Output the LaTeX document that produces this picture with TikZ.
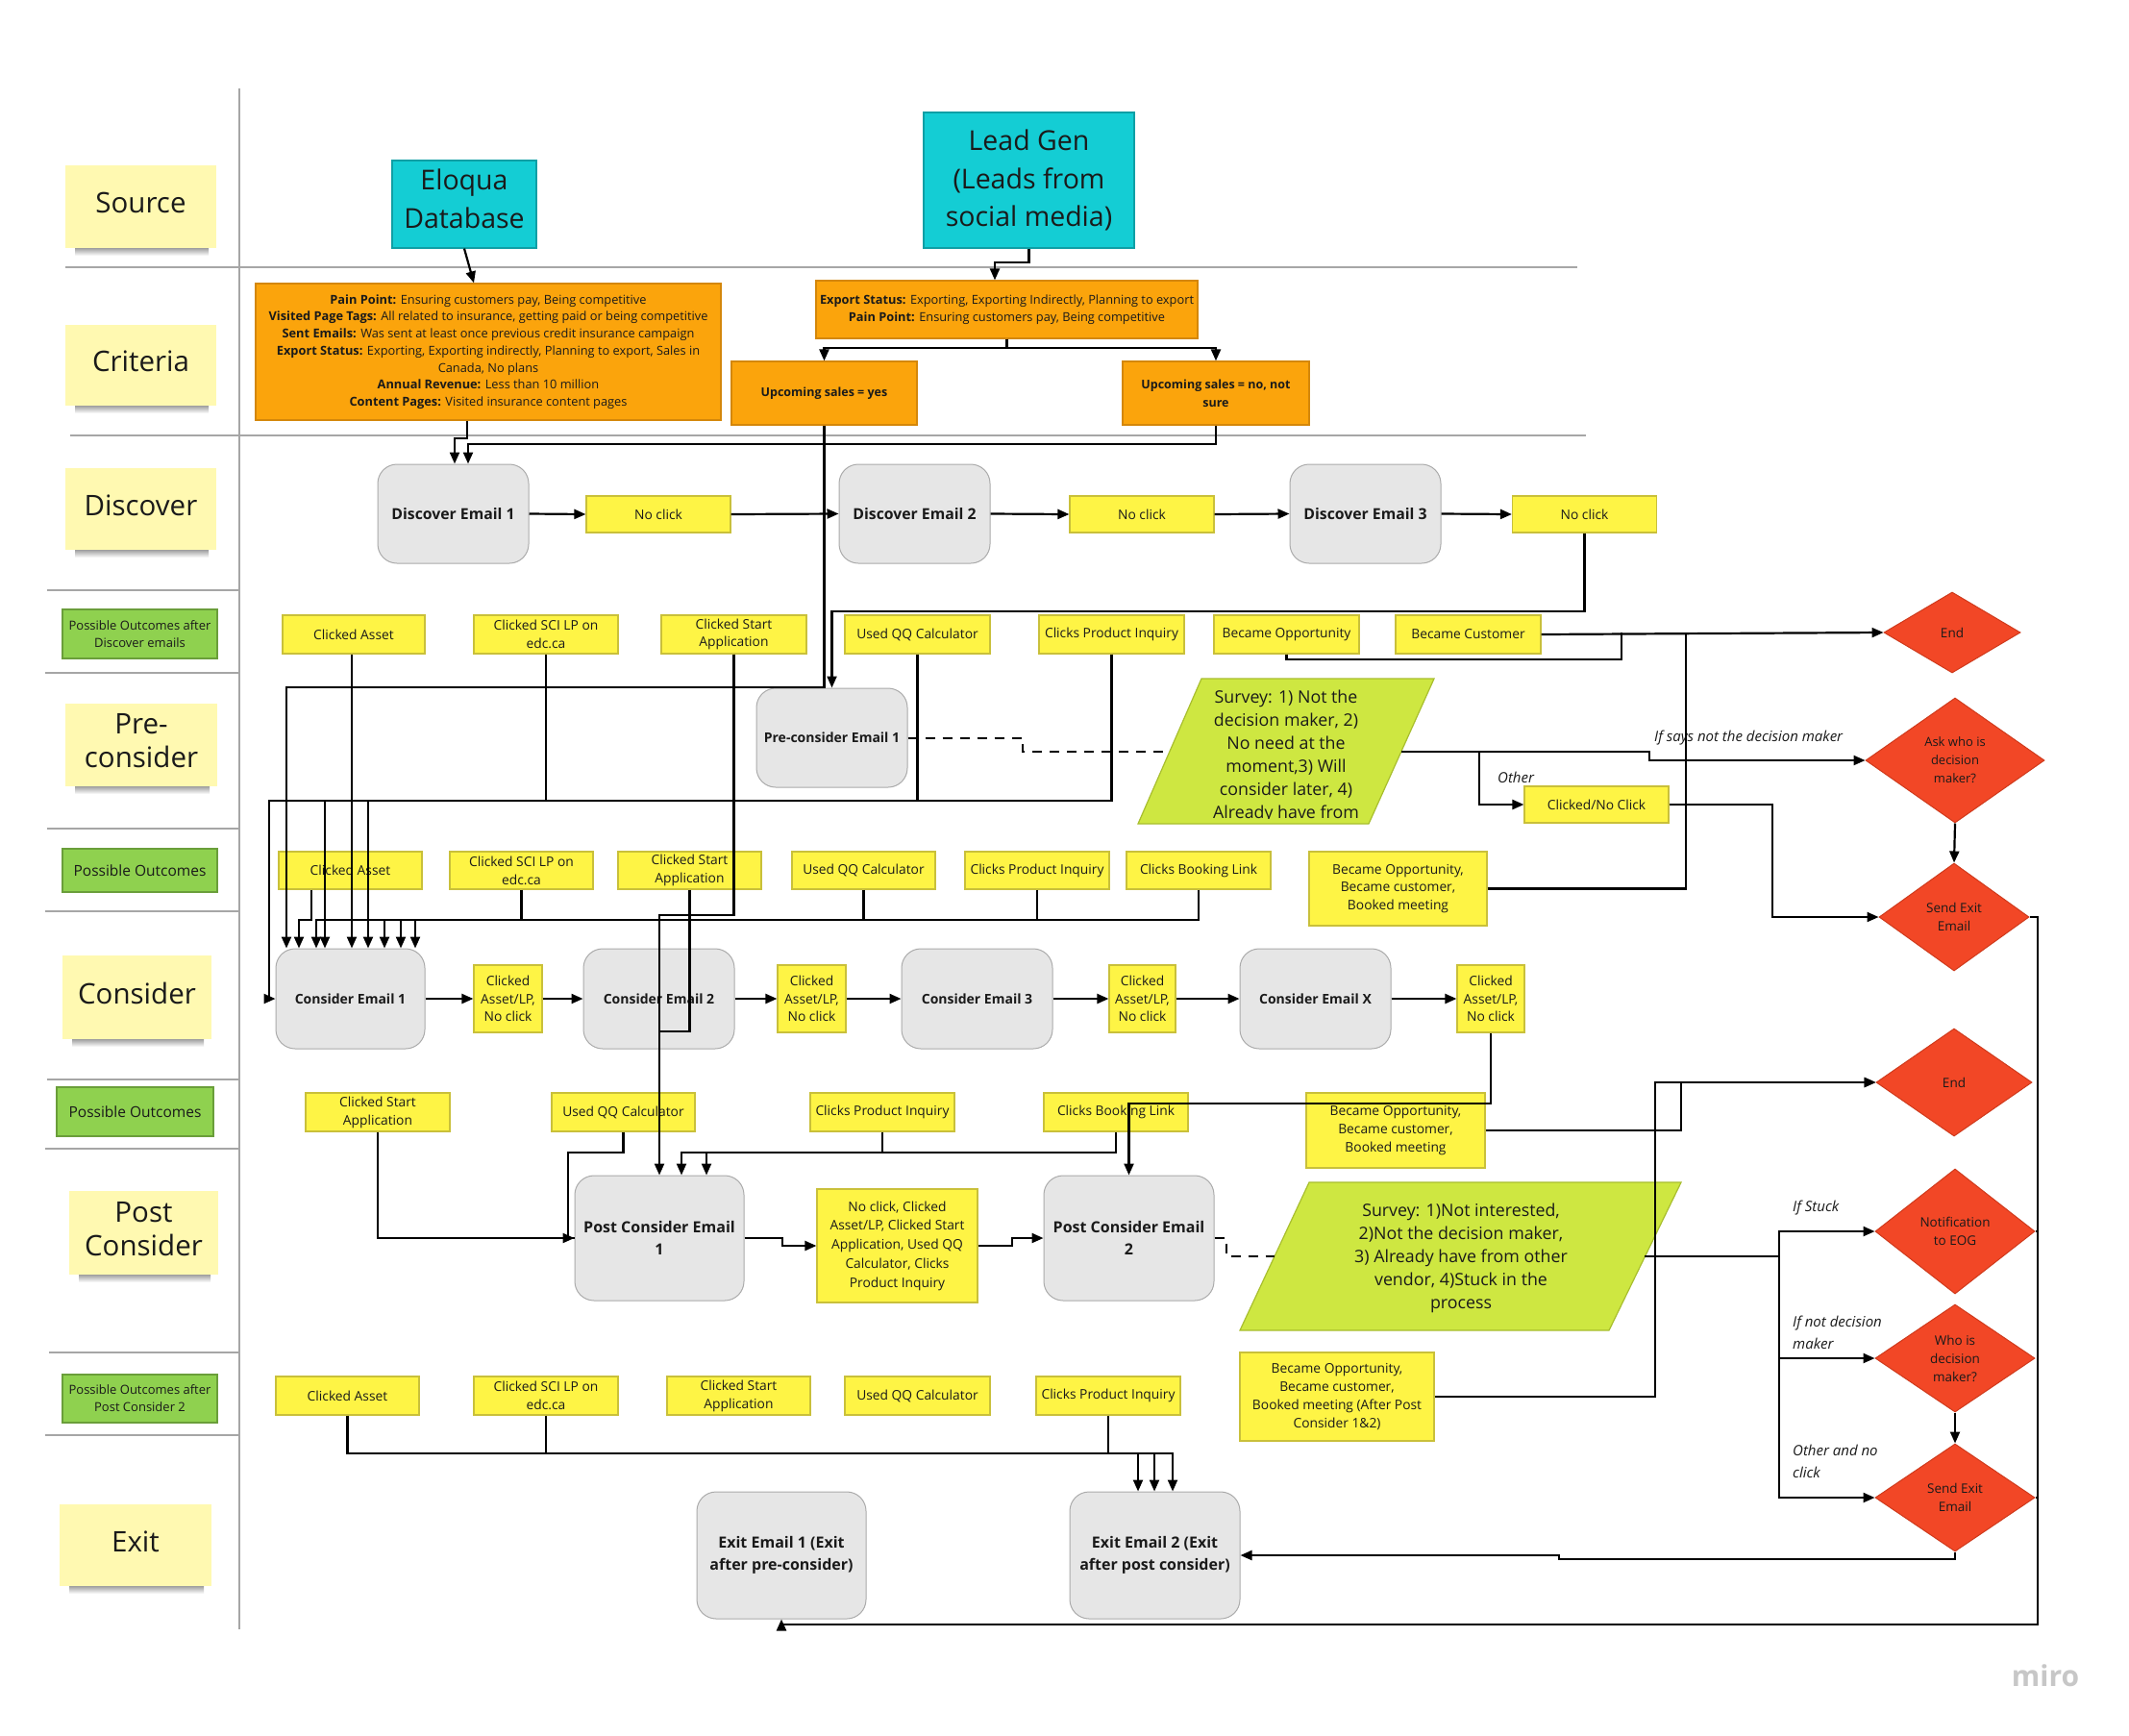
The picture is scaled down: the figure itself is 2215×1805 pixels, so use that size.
\documentclass[tikz,border=0pt]{standalone}
\usepackage{fontspec}
\setmainfont{Open Sans}
\usetikzlibrary{arrows.meta,shapes.geometric}
\definecolor{txt}{HTML}{1A1A1A}
\definecolor{yel}{HTML}{FEF445}
\definecolor{yelb}{HTML}{C9C03A}
\definecolor{org}{HTML}{FBA40C}
\definecolor{orgb}{HTML}{D4870A}
\definecolor{cy}{HTML}{14CDD4}
\definecolor{cyb}{HTML}{0E9FA5}
\definecolor{rd}{HTML}{F24726}
\definecolor{rdb}{HTML}{CF3A1C}
\definecolor{grn}{HTML}{8FD14F}
\definecolor{grnb}{HTML}{6A9E3A}
\definecolor{stickyc}{HTML}{FFF9B1}
\definecolor{emf}{HTML}{E6E6E6}
\definecolor{emb}{HTML}{ABABAB}
\definecolor{sv}{HTML}{CEE741}
\definecolor{svb}{HTML}{A8BE2E}
\definecolor{sepc}{HTML}{A6A6A6}
\newcommand\stickynote[6]{%
  \shade[top color=black!60,bottom color=white,opacity=0.7] (#2-#4/2+10,#3+#5/2-1) rectangle (#2+#4/2-8,#3+#5/2+8);
  \node[stick,sz={#4}{#5}] (#1) at (#2,#3) {};
  \node[stickytext] (#1T) at (#2,#3-4) {#6};}
\begin{document}
\begin{tikzpicture}[x=1pt,y=-1pt,
  every node/.style={text=txt},
  sz/.style 2 args={minimum width=#1pt,minimum height=#2pt},
  stick/.style={fill=stickyc,inner sep=0},
  stickytext/.style={inner sep=0,align=center,font=\fontsize{29.5}{35}\selectfont},
  glab/.style={fill=grn,draw=grnb,line width=1.2pt,inner sep=0,align=center},
  src/.style={fill=cy,draw=cyb,line width=1.2pt,inner sep=0,align=center,font=\fontsize{28.5}{39.5}\selectfont},
  crit/.style={fill=org,draw=orgb,line width=1.2pt,inner sep=0,align=center,font=\fontsize{12.8}{17.7}\selectfont},
  email/.style={fill=emf,draw=emb,line width=1pt,rounded corners=20pt,inner sep=0,align=center,font=\bfseries\fontsize{14}{20}\selectfont},
  ybox/.style={fill=yel,draw=yelb,line width=1.2pt,inner sep=0,align=center,font=\fontsize{13.8}{18.8}\selectfont},
  dia/.style={diamond,fill=rd,draw=rdb,line width=1pt,inner sep=0,align=center,font=\fontsize{13.5}{19}\selectfont},
  note/.style={font=\itshape\fontsize{15}{23}\selectfont,inner sep=0,align=left},
  surveybox/.style={fill=sv,draw=svb,line width=1.2pt},
  surveytext/.style={align=center,inner sep=0,font=\fontsize{17.8}{24}\selectfont},
  wire/.style={line width=2.2pt,line join=miter},
  wirearr/.style={wire,-{Triangle[length=12pt,width=10pt]}},
  dashwire/.style={line width=2pt,dash pattern=on 10pt off 8pt},
  sepline/.style={draw=sepc,line width=1.3pt}
]
\useasboundingbox (0,0) rectangle (2215,1805);
\fill[white] (0,0) rectangle (2215,1805);

% separators
\draw[sepline] (68,278) -- (1641,278);
\draw[sepline] (73,453) -- (1650,453);
\foreach \yy/\xa in {614/49,700/47,862/49,948/47,1123/49,1195/47,1407/51,1493/47}
  \draw[sepline] (\xa,\yy) -- (249,\yy);
\draw[sepline] (249,92) -- (249,1695);

% row labels
\stickynote{srcL}{146.5}{215}{157}{86}{Source}
\stickynote{critL}{146.5}{380}{157}{84}{Criteria}
\stickynote{discL}{146.5}{529.5}{157}{85}{Discover}
\stickynote{preL}{147}{775}{158}{86}{Pre-\\consider}
\stickynote{consL}{142.5}{1037.5}{155}{87}{Consider}
\stickynote{postL}{149.5}{1282.5}{155}{87}{Post\\Consider}
\stickynote{exitL}{141}{1607.5}{158}{85}{Exit}
\node[glab,sz={161}{51},font=\fontsize{13}{18}\selectfont] (pocA) at (145.5,659.5) {Possible Outcomes after\\Discover emails};
\node[glab,sz={161}{45},font=\fontsize{15.5}{20}\selectfont] (pocB) at (145.5,905.5) {Possible Outcomes};
\node[glab,sz={163}{51},font=\fontsize{15.5}{20}\selectfont] (pocC) at (140.5,1156.5) {Possible Outcomes};
\node[glab,sz={161}{50},font=\fontsize{13}{18}\selectfont] (pocD) at (145.5,1455) {Possible Outcomes after\\Post Consider 2};

% sources
\node[src,sz={150}{91}] (eloqua) at (483,212.5) {};
\node[inner sep=0,align=center,font=\fontsize{28.5}{39.5}\selectfont] (eloquaT) at (483,207) {Eloqua\\Database};
\node[src,sz={219}{141}] (leadgen) at (1070.5,187.5) {Lead Gen\\(Leads from\\social media)};

% criteria
\node[crit,sz={484}{142}] (crit1) at (508,366) {\textbf{Pain Point:} Ensuring customers pay, Being competitive\\ \textbf{Visited Page Tags:} All related to insurance, getting paid or being competitive\\ \textbf{Sent Emails:} Was sent at least once previous credit insurance campaign\\ \textbf{Export Status:} Exporting, Exporting indirectly, Planning to export, Sales in\\ Canada, No plans\\ \textbf{Annual Revenue:} Less than 10 million\\ \textbf{Content Pages:} Visited insurance content pages};
\node[crit,sz={397}{60}] (crit2) at (1047.5,322) {\textbf{Export Status:} Exporting, Exporting Indirectly, Planning to export\\ \textbf{Pain Point:} Ensuring customers pay, Being competitive};
\node[crit,sz={193}{66},font=\bfseries\fontsize{12.5}{19}\selectfont] (upyes) at (857.5,409) {Upcoming sales = yes};
\node[crit,sz={194}{66},font=\bfseries\fontsize{12.5}{19}\selectfont] (upno) at (1265,409) {Upcoming sales = no, not\\sure};

% discover row
\node[email,sz={157}{103},font=\bfseries\fontsize{15.8}{20}\selectfont] (de1) at (471.5,534.5) {Discover Email 1};
\node[ybox,sz={150}{38}] (nc1) at (685,535) {No click};
\node[email,sz={157}{103},font=\bfseries\fontsize{15.8}{20}\selectfont] (de2) at (951.5,534.5) {Discover Email 2};
\node[ybox,sz={150}{38}] (nc2) at (1188,535) {No click};
\node[email,sz={157}{103},font=\bfseries\fontsize{15.8}{20}\selectfont] (de3) at (1420.5,534.5) {Discover Email 3};
\node[ybox,sz={150}{38}] (nc3) at (1648.5,535) {No click};

% outcomes after discover
\node[ybox,sz={148}{40}] (a1) at (368,660) {Clicked Asset};
\node[ybox,sz={150}{40}] (a2) at (568,660) {Clicked SCI LP on\\edc.ca};
\node[ybox,sz={151}{40}] (a3) at (763.5,660) {Clicked Start\\Application};
\node[ybox,sz={151}{40}] (a4) at (954.5,660) {Used QQ Calculator};
\node[ybox,sz={151}{40}] (a5) at (1156.5,660) {Clicks Product Inquiry};
\node[ybox,sz={151}{40}] (a6) at (1338.5,660) {Became Opportunity};
\node[ybox,sz={151}{40}] (a7) at (1527.5,660) {Became Customer};

% pre-consider
\node[email,sz={157}{103}] (pre1) at (865.5,767.5) {Pre-consider Email 1};
\filldraw[surveybox] (1250,706) -- (1492,706) -- (1424,857) -- (1184,857) -- cycle;
\begin{scope}
\clip (1150,690) rectangle (1500,851);
\node[surveytext] (s1) at (1338,787) {Survey: 1) Not the\\decision maker, 2)\\No need at the\\moment,3) Will\\consider later, 4)\\Already have from};
\end{scope}
\coordinate (s1w) at (1217,782);
\coordinate (s1e) at (1458,782);
\node[ybox,sz={150}{38}] (cnc) at (1661,837) {Clicked/No Click};
\node[note,anchor=west] (lab1) at (1721,768) {If says not the decision maker};
\node[note,anchor=west] (lab2) at (1558,809) {Other};

% decision diamonds
\node[dia,sz={142}{84}] (end1) at (2031,658) {End};
\node[dia,sz={186}{130},font=\fontsize{13}{19}\selectfont] (ask) at (2034,791) {Ask who is\\decision\\maker?};
\node[dia,sz={156}{112}] (sx1) at (2033,954) {Send Exit\\Email};
\node[dia,sz={162}{112}] (end2) at (2033,1126) {End};
\node[dia,sz={166}{130}] (noti) at (2034,1281) {Notification\\to EOG};
\node[dia,sz={166}{112}] (who) at (2034,1413) {Who is\\decision\\maker?};
\node[dia,sz={166}{112}] (sx2) at (2034,1558) {Send Exit\\Email};

% outcomes (consider)
\node[ybox,sz={149}{39}] (b1) at (364.5,905.5) {Clicked Asset};
\node[ybox,sz={149}{39}] (b2) at (542.5,905.5) {Clicked SCI LP on\\edc.ca};
\node[ybox,sz={149}{39}] (b3) at (717.5,905.5) {Clicked Start\\Application};
\node[ybox,sz={149}{39}] (b4) at (898.5,905.5) {Used QQ Calculator};
\node[ybox,sz={150}{39}] (b5) at (1079,905.5) {Clicks Product Inquiry};
\node[ybox,sz={150}{39}] (b6) at (1247,905.5) {Clicks Booking Link};
\node[ybox,sz={185}{77}] (b7) at (1454.5,924.5) {Became Opportunity,\\Became customer,\\Booked meeting};

% consider row
\node[email,sz={155}{104}] (ce1) at (364.5,1039) {Consider Email 1};
\node[ybox,sz={71}{70}] (cc1) at (528.5,1039) {Clicked\\Asset/LP,\\No click};
\node[email,sz={157}{104}] (ce2) at (685.5,1039) {Consider Email 2};
\node[ybox,sz={71}{70}] (cc2) at (844.5,1039) {Clicked\\Asset/LP,\\No click};
\node[email,sz={157}{104}] (ce3) at (1016.5,1039) {Consider Email 3};
\node[ybox,sz={69}{70}] (cc3) at (1188.5,1039) {Clicked\\Asset/LP,\\No click};
\node[email,sz={157}{104}] (cex) at (1368.5,1039) {Consider Email X};
\node[ybox,sz={70}{70}] (ccx) at (1551,1039) {Clicked\\Asset/LP,\\No click};

% outcomes (post consider)
\node[ybox,sz={150}{40}] (c1) at (393,1157) {Clicked Start\\Application};
\node[ybox,sz={149}{40}] (c2) at (648.5,1157) {Used QQ Calculator};
\node[ybox,sz={150}{40}] (c3) at (918,1157) {Clicks Product Inquiry};
\node[ybox,sz={150}{40}] (c4) at (1161,1157) {Clicks Booking Link};
\node[ybox,sz={186}{78}] (c5) at (1452,1176) {Became Opportunity,\\Became customer,\\Booked meeting};

% post consider row
\node[email,sz={176}{130},font=\bfseries\fontsize{16}{23}\selectfont] (pce1) at (686,1288) {Post Consider Email\\1};
\node[ybox,sz={167}{118},font=\fontsize{13.8}{19.8}\selectfont] (pnc) at (933.5,1296) {No click, Clicked\\Asset/LP, Clicked Start\\Application, Used QQ\\Calculator, Clicks\\Product Inquiry};
\node[email,sz={177}{130},font=\bfseries\fontsize{16}{23}\selectfont] (pce2) at (1174.5,1288) {Post Consider Email\\2};
\filldraw[surveybox] (1362,1230) -- (1749,1230) -- (1674,1384) -- (1290,1384) -- cycle;
\node[surveytext] (s2) at (1520,1309) {Survey: 1)Not interested,\\2)Not the decision maker,\\3) Already have from other\\vendor, 4)Stuck in the\\process};
\coordinate (s2w) at (1326,1307);
\coordinate (s2e) at (1711,1307);
\node[note,anchor=west] (lab3) at (1865,1257) {If Stuck};
\node[note,anchor=west] (lab4) at (1865,1386) {If not decision\\maker};
\node[note,anchor=west] (lab5) at (1865,1520) {Other and no\\click};

% outcomes after post consider 2
\node[ybox,sz={149}{40}] (d1) at (361.5,1452) {Clicked Asset};
\node[ybox,sz={150}{40}] (d2) at (568,1452) {Clicked SCI LP on\\edc.ca};
\node[ybox,sz={149}{40}] (d3) at (768.5,1452) {Clicked Start\\Application};
\node[ybox,sz={151}{40}] (d4) at (954.5,1452) {Used QQ Calculator};
\node[ybox,sz={150}{40}] (d5) at (1153,1452) {Clicks Product Inquiry};
\node[ybox,sz={202}{92}] (d6) at (1391,1453) {Became Opportunity,\\Became customer,\\Booked meeting (After Post\\Consider 1\&2)};

% exit row
\node[email,sz={176}{132},font=\bfseries\fontsize{16}{23}\selectfont] (ex1) at (813,1618) {Exit Email 1 (Exit\\after pre-consider)};
\node[email,sz={177}{132},font=\bfseries\fontsize{16}{23}\selectfont] (ex2) at (1201.5,1618) {Exit Email 2 (Exit\\after post consider)};

\node[font=\bfseries\fontsize{30}{30}\selectfont,text=black!22] (miro) at (2128,1743) {miro};

% ---------- connectors ----------
\draw[wirearr] (eloqua.south) -- (493,0 |- crit1.north);
\draw[wirearr] (leadgen.south) -- (1070.5,273) -| (1035,0 |- crit2.north);
\draw[wirearr] (crit2.south) -- (1047.5,362) -| (upyes.north);
\draw[wirearr] (crit2.south) -- (1047.5,362) -| (upno.north);
\draw[wirearr] (486,0 |- crit1.south) -- (486,456) -| (473,0 |- de1.north);
\draw[wirearr] (upno.south) -- (1265,462) -| (487,0 |- de1.north);
\draw[wirearr] (upyes.south) -- (857.5,715) -| (298,0 |- ce1.north);

\draw[wirearr] (de1.east) -- (nc1.west);
\draw[wirearr] (nc1.east) -- (de2.west);
\draw[wirearr] (de2.east) -- (nc2.west);
\draw[wirearr] (nc2.east) -- (de3.west);
\draw[wirearr] (de3.east) -- (nc3.west);
\draw[wirearr] (nc3.south) -- (1648.5,636) -| (pre1.north);

\draw[wirearr] (366,0 |- a1.south) -- (366,0 |- ce1.north);
\draw[wirearr] (a2.south) -- (568,833) -| (383,0 |- ce1.north);
\draw[wirearr] (a4.south) -- (954.5,833) -| (338,0 |- ce1.north);
\draw[wirearr] (a5.south) -- (1156.5,833) -| (280,1039) -- (ce1.west);
\draw[wirearr] (a3.south) -- (763.5,952) -| (pce1.north);
\draw[wire] (a6.south) -- (1338.5,686) -| (1687,658);
\draw[wirearr] (a7.east) -- (end1.west);
\draw[wire] (b7.east) -| (1754,658);

\draw[wirearr] (324,0 |- b1.south) -- (324,957) -| (311,0 |- ce1.north);
\draw[wirearr] (b2.south) -- (542.5,957) -| (329,0 |- ce1.north);
\draw[wirearr] (b4.south) -- (898.5,957) -| (400,0 |- ce1.north);
\draw[wirearr] (b5.south) -- (1079,957) -| (417,0 |- ce1.north);
\draw[wirearr] (b6.south) -- (1247,957) -| (432,0 |- ce1.north);
\draw[wire] (b3.south) -- (717.5,1073) -- (686,1073);

\draw[wirearr] (ce1.east) -- (cc1.west);
\draw[wirearr] (cc1.east) -- (ce2.west);
\draw[wirearr] (ce2.east) -- (cc2.west);
\draw[wirearr] (cc2.east) -- (ce3.west);
\draw[wirearr] (ce3.east) -- (cc3.west);
\draw[wirearr] (cc3.east) -- (cex.west);
\draw[wirearr] (cex.east) -- (ccx.west);
\draw[wirearr] (ccx.south) -- (1551,1148) -| (pce2.north);

\draw[dashwire] (pre1.east) -- (1064,767.5) -- (1064,782) -- (s1w);
\draw[wirearr] (s1e) -- (1716,782) |- (ask.west);
\draw[wirearr] (s1e) -- (1539,782) |- (cnc.west);
\draw[wirearr] (cnc.east) -- (1844,837) |- (sx1.west);
\draw[wirearr] (ask.south) -- (sx1.north);
\draw[wirearr] (sx1.east) -- (2120,954) -- (2120,1690) -| (ex1.south);

\draw[wirearr] (c1.south) |- (pce1.west);
\draw[wire] (c2.south) -- (648.5,1199) -| (591,1288) -- (pce1.west);
\draw[wirearr] (c3.south) -- (918,1199) -| (735,0 |- pce1.north);
\draw[wirearr] (c4.south) -- (1161,1199) -| (709,0 |- pce1.north);
\draw[wirearr] (pce1.east) -- (814,1288) -- (814,1296) -- (pnc.west);
\draw[wirearr] (pnc.east) -- (1053,1296) -- (1053,1288) -- (pce2.west);
\draw[wirearr] (c5.east) -- (1749,1176) |- (end2.west);
\draw[wirearr] (d6.east) -- (1722,1453) |- (end2.west);
\draw[dashwire] (pce2.east) -- (1276,1288) -- (1276,1307) -- (s2w);
\draw[wirearr] (s2e) -- (1851,1307) |- (noti.west);
\draw[wirearr] (s2e) -- (1851,1307) |- (who.west);
\draw[wirearr] (s2e) -- (1851,1307) |- (sx2.west);
\draw[wirearr] (who.south) -- (sx2.north);
\draw[wire] (noti.east) -- (2120,1281);
\draw[wire] (sx2.east) -- (2120,1558);
\draw[wirearr] (sx2.south) -- (2034,1622) -- (1622,1622) -- (1622,1618) -- (ex2.east);

\draw[wirearr] (d1.south) -- (361.5,1512) -| (1184,0 |- ex2.north);
\draw[wirearr] (d2.south) -- (568,1512) -| (1201,0 |- ex2.north);
\draw[wirearr] (d5.south) -- (1153,1512) -| (1220,0 |- ex2.north);
\end{tikzpicture}
\end{document}
